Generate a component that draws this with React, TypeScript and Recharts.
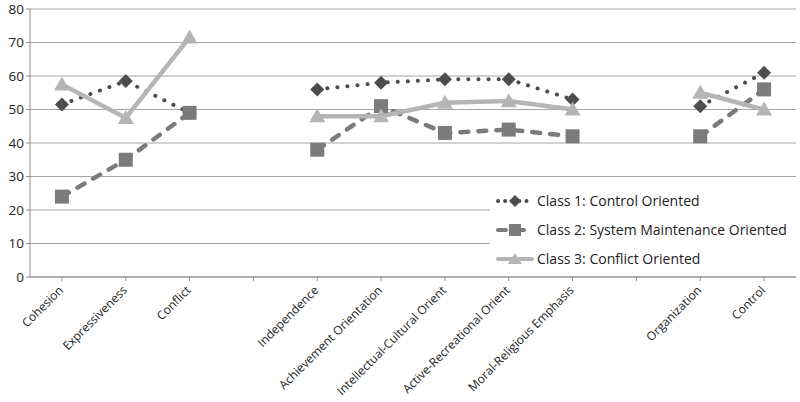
import React from "react";
import { LineChart, Line, XAxis, YAxis, CartesianGrid } from "recharts";

const categories = [
  "Cohesion",
  "Expressiveness",
  "Conflict",
  "",
  "Independence",
  "Achievement Orientation",
  "Intellectual-Cultural Orient",
  "Active-Recreational Orient",
  "Moral-Religious Emphasis",
  "",
  "Organization",
  "Control",
];

const class1 = [51.5, 58.5, 49, null, 56, 58, 59, 59, 53, null, 51, 61];
const class2 = [24, 35, 49, null, 38, 51, 43, 44, 42, null, 42, 56];
const class3 = [57.5, 47.5, 71.5, null, 48, 48, 52, 52.5, 50, null, 55, 50];

const yTicks = [0, 10, 20, 30, 40, 50, 60, 70, 80];

const seriesNames = [
  "Class 1: Control Oriented",
  "Class 2: System Maintenance Oriented",
  "Class 3: Conflict Oriented",
];

const data = categories.map((c, i) => ({
  key: `c${i}`,
  label: c,
  class1: class1[i],
  class2: class2[i],
  class3: class3[i],
}));

const FONT = "'Open Sans', 'Noto Sans', sans-serif";
const C1 = "#4d4d4d";
const C2 = "#7b7b7b";
const C3 = "#b5b5b5";

const Diamond = (props: any) => {
  const { cx, cy, index } = props;
  if (cx == null || cy == null || isNaN(cy)) return <g key={`d${index}`} />;
  const r = 7;
  return (
    <path
      key={`d${index}`}
      d={`M${cx},${cy - r} L${cx + r},${cy} L${cx},${cy + r} L${cx - r},${cy} Z`}
      fill={C1}
    />
  );
};

const Square = (props: any) => {
  const { cx, cy, index } = props;
  if (cx == null || cy == null || isNaN(cy)) return <g key={`s${index}`} />;
  const r = 7;
  return <rect key={`s${index}`} x={cx - r} y={cy - r} width={r * 2} height={r * 2} fill={C2} />;
};

const Triangle = (props: any) => {
  const { cx, cy, index } = props;
  if (cx == null || cy == null || isNaN(cy)) return <g key={`t${index}`} />;
  const r = 8;
  return (
    <path
      key={`t${index}`}
      d={`M${cx},${cy - r} L${cx + r},${cy + r * 0.75} L${cx - r},${cy + r * 0.75} Z`}
      fill={C3}
    />
  );
};

const XTick = (props: any) => {
  const { x, y, payload } = props;
  const label = categories[payload.index] ?? "";
  return (
    <g transform={`translate(${x + 2},${y + 8})`}>
      <text
        x={0}
        y={0}
        textAnchor="end"
        transform="rotate(-45)"
        fontSize={12}
        fontFamily={FONT}
        fill="#222"
      >
        {label}
      </text>
    </g>
  );
};

function LegendBox() {
  const rows = [
    { color: C1, dash: "0.1 7", marker: "diamond" },
    { color: C2, dash: "8 10", marker: "square" },
    { color: C3, dash: undefined, marker: "triangle" },
  ];
  return (
    <div
      style={{
        position: "absolute",
        left: 490,
        top: 180,
        width: 308,
        height: 92,
        background: "#fff",
        fontFamily: FONT,
        fontSize: 14,
        color: "#222",
      }}
    >
      {rows.map((r, i) => (
        <div
          key={i}
          style={{ display: "flex", alignItems: "center", height: 29, marginTop: i === 0 ? 6 : 0 }}
        >
          <svg width={40} height={16} style={{ marginLeft: 5, marginRight: 2 }}>
            <line
              x1={3}
              y1={8}
              x2={37}
              y2={8}
              stroke={r.color}
              strokeWidth={4}
              strokeDasharray={r.dash}
              strokeLinecap="round"
            />
            {r.marker === "diamond" && <path d="M20,2 L26,8 L20,14 L14,8 Z" fill={r.color} />}
            {r.marker === "square" && <rect x={14} y={2} width={12} height={12} fill={r.color} />}
            {r.marker === "triangle" && <path d="M20,2 L27,13 L13,13 Z" fill={r.color} />}
          </svg>
          <span>{seriesNames[i]}</span>
        </div>
      ))}
    </div>
  );
}

export default function App() {
  return (
    <div style={{ position: "absolute", left: 0, top: 0, width: 800, height: 402, background: "#fff" }}>
      <LineChart
        width={800}
        height={402}
        data={data}
        margin={{ top: 9, right: 4, bottom: 0, left: 0 }}
      >
        <CartesianGrid vertical={false} stroke="#a6a6a6" strokeWidth={1.2} />
        <XAxis
          dataKey="key"
          scale="band"
          interval={0}
          height={125}
          tick={<XTick />}
          tickSize={4}
          stroke="#8c8c8c"
          axisLine={{ stroke: "#8c8c8c" }}
        />
        <YAxis
          domain={[0, 80]}
          ticks={yTicks}
          width={30}
          tickSize={4}
          stroke="#8c8c8c"
          tick={{ fontSize: 13.5, fontFamily: FONT, fill: "#222" }}
          interval={0}
        />
        <Line
          type="linear"
          dataKey="class1"
          stroke={C1}
          strokeWidth={4}
          strokeDasharray="0.1 10"
          strokeLinecap="round"
          dot={Diamond}
          activeDot={false}
          isAnimationActive={false}
        />
        <Line
          type="linear"
          dataKey="class2"
          stroke={C2}
          strokeWidth={4.5}
          strokeDasharray="8 10"
          strokeLinecap="round"
          dot={Square}
          activeDot={false}
          isAnimationActive={false}
        />
        <Line
          type="linear"
          dataKey="class3"
          stroke={C3}
          strokeWidth={4.5}
          dot={Triangle}
          activeDot={false}
          isAnimationActive={false}
        />
      </LineChart>
      <LegendBox />
    </div>
  );
}
